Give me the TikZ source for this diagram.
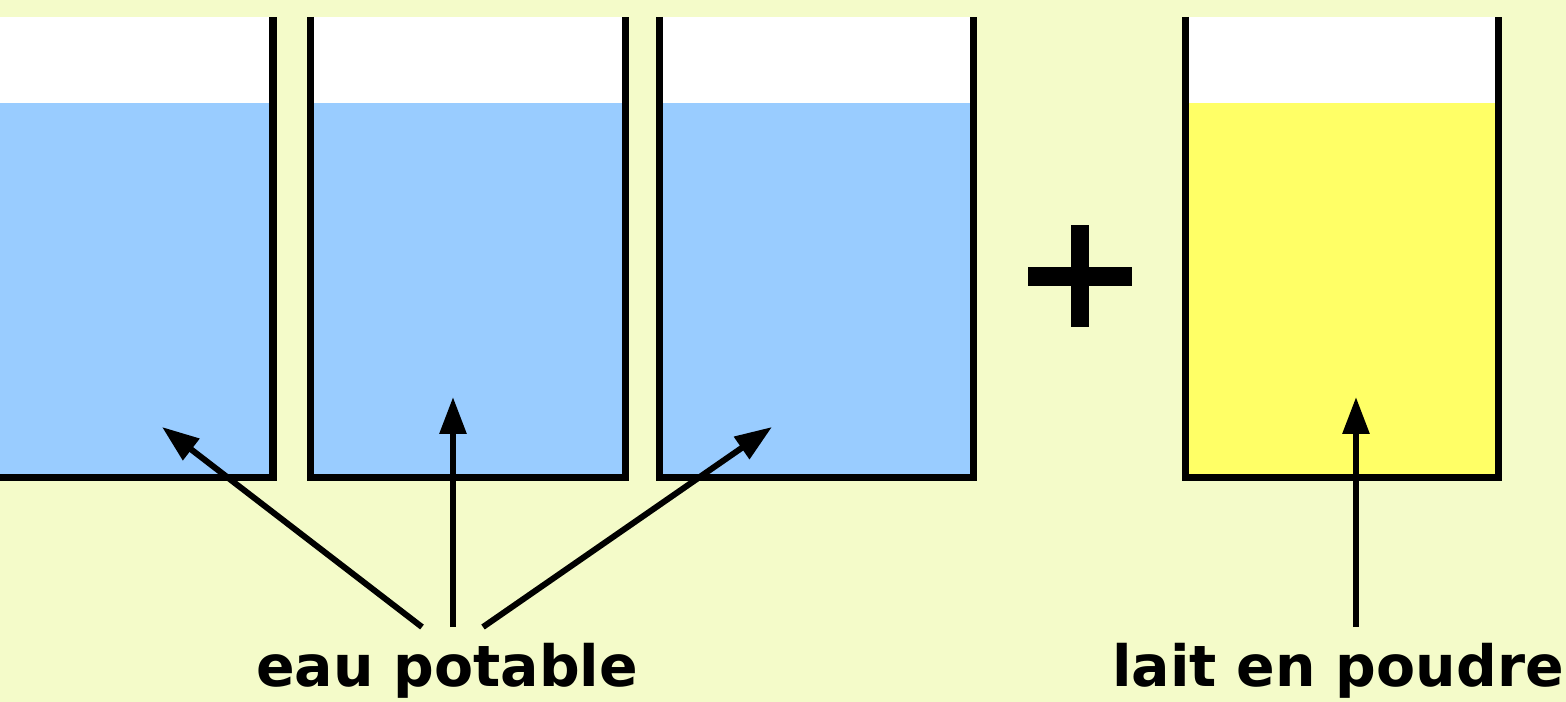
\documentclass[tikz,border=0pt]{standalone}
\usepackage{fontspec}
\setmainfont{DejaVu Sans}
\usetikzlibrary{arrows.meta,positioning}
\definecolor{bgcol}{RGB}{244,251,201}
\definecolor{water}{RGB}{153,204,255}
\definecolor{milk}{RGB}{255,255,102}
\tikzset{
  wall/.style={line width=0.07cm,line join=miter},
  pointer/.style={->,line width=0.06cm},
  lbl/.style={anchor=base,inner sep=0pt,font=\fontsize{16.2}{19}\selectfont\bfseries}
}

\begin{document}
\begin{tikzpicture}[>={Triangle[length=0.37cm,width=0.26cm]}]
\clip (0,0) rectangle (15.66,7.02);
\fill[bgcol] (0,0) rectangle (15.66,7.02);
% three beakers of water
\fill[white] (-0.41,5.99) rectangle (2.73,6.85);
\fill[water] (-0.41,2.24) rectangle (2.73,5.99);
\draw[wall] (-0.41,6.85) -- (-0.41,2.24) -- (2.73,2.24) -- (2.73,6.85);
\fill[white] (3.10,5.99) rectangle (6.25,6.85);
\fill[water] (3.10,2.24) rectangle (6.25,5.99);
\draw[wall] (3.10,6.85) -- (3.10,2.24) -- (6.25,2.24) -- (6.25,6.85);
\fill[white] (6.59,5.99) rectangle (9.73,6.85);
\fill[water] (6.59,2.24) rectangle (9.73,5.99);
\draw[wall] (6.59,6.85) -- (6.59,2.24) -- (9.73,2.24) -- (9.73,6.85);
% plus sign
\fill (10.28,4.16) rectangle (11.32,4.35);
\fill (10.71,3.75) rectangle (10.89,4.77);
% beaker of milk powder
\fill[white] (11.85,5.99) rectangle (14.98,6.85);
\fill[milk] (11.85,2.24) rectangle (14.98,5.99);
\draw[wall] (11.85,6.85) -- (11.85,2.24) -- (14.98,2.24) -- (14.98,6.85);
% labels and arrows
\node[lbl] (eau) at (4.47,0.15) {eau potable};
\node[lbl] (lait) at (13.38,0.15) {lait en poudre};
\coordinate (w1) at (1.62,2.75);
\coordinate (w2) at (4.53,3.05);
\coordinate (w3) at (7.72,2.75);
\coordinate (m1) at (13.56,3.05);
\draw[pointer] ([shift={(-0.25,0.16)}]eau.north) -- (w1);
\draw[pointer] ([shift={(0.06,0.16)}]eau.north) -- (w2);
\draw[pointer] ([shift={(0.36,0.16)}]eau.north) -- (w3);
\draw[pointer] ([shift={(0.18,0.16)}]lait.north) -- (m1);
\end{tikzpicture}
\end{document}
